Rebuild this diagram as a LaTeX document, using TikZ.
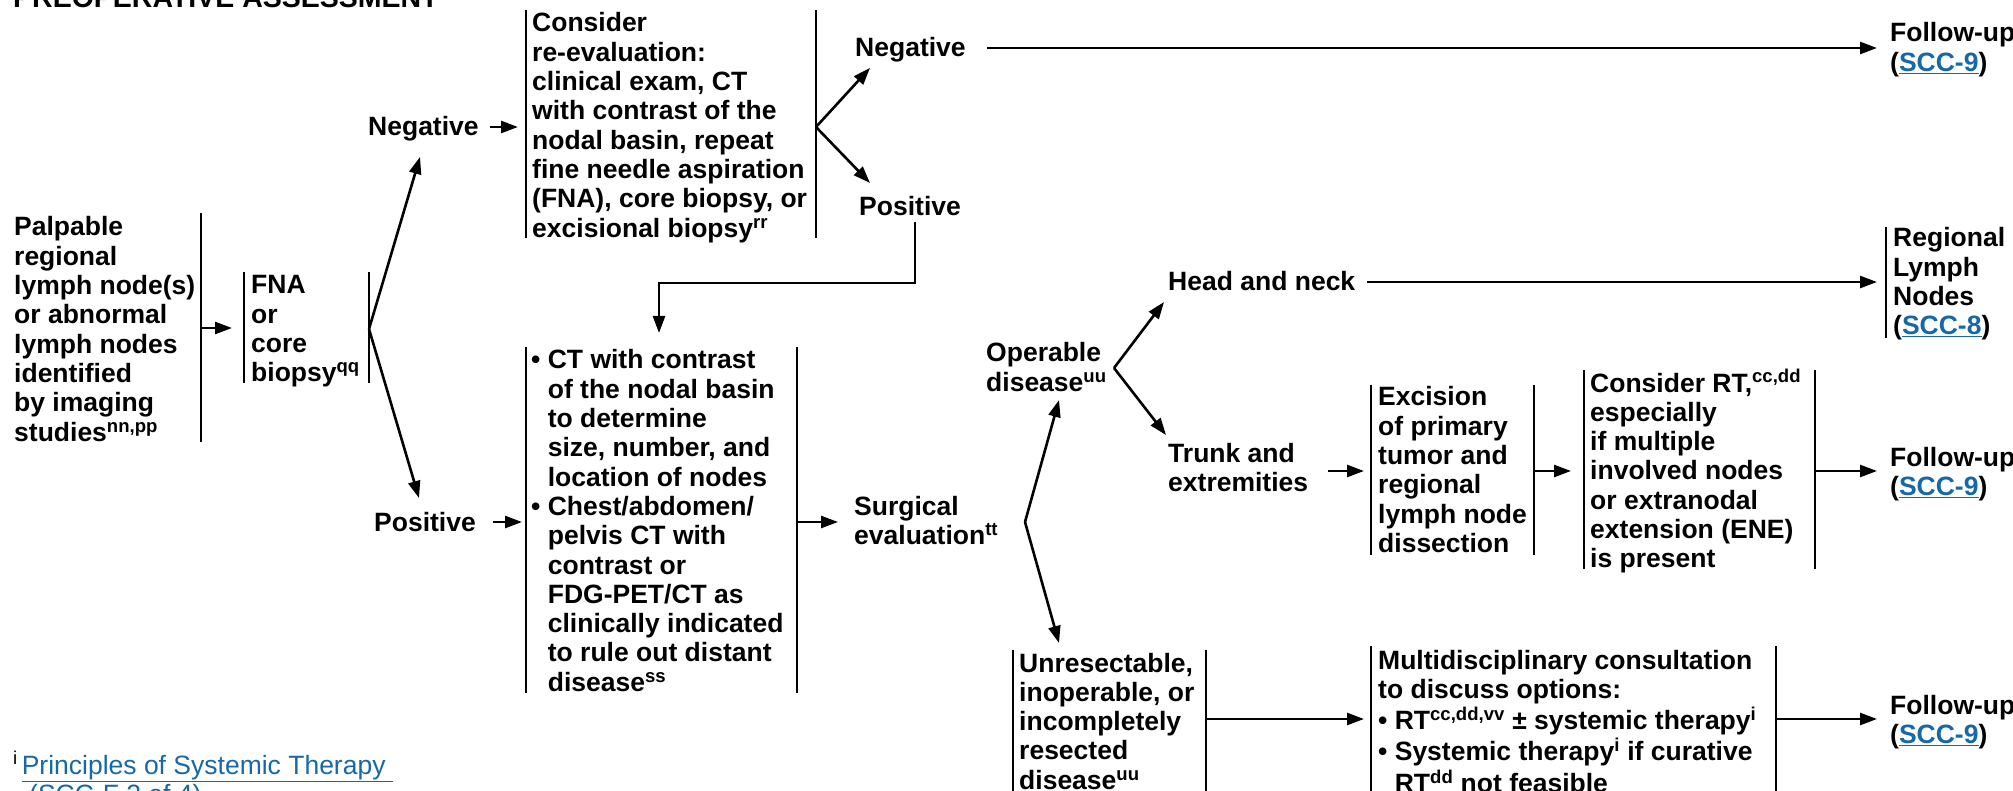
\documentclass[tikz,border=0pt]{standalone}
\usepackage{fontspec}
\setmainfont{Liberation Sans}
\usetikzlibrary{arrows.meta}
\definecolor{linkblue}{RGB}{22,104,168}
\newcommand\tl[1]{\begin{tabular}[t]{@{}l@{}}#1\end{tabular}}
\newcommand\spx[1]{\textsuperscript{#1}}
\newcommand\lk[1]{\textcolor{linkblue}{\underline{#1}}}
\newcommand\bi{\hphantom{\textbullet\ }}
\begin{document}
\begin{tikzpicture}[x=1pt,y=-1pt,
  txt/.style={anchor=base west,inner sep=0pt,font=\fontsize{26.5}{29.3}\selectfont\bfseries},
  bar/.style={line width=2.8pt},
  ln/.style={line width=2.6pt},
  arr/.style={line width=2.6pt,-{Triangle[length=17pt,width=12pt]}}]
\useasboundingbox (0,0) rectangle (2013,791);
\clip (0,0) rectangle (2013,791);

% ---------- text nodes ----------
\node[txt,font=\fontsize{28.5}{30}\selectfont\bfseries] (title) at (13,8) {PREOPERATIVE ASSESSMENT};
\node[txt] (pal) at (14,236) {\tl{Palpable\\regional\\lymph node(s)\\or abnormal\\lymph nodes\\identified\\by imaging\\studies\spx{nn,pp}}};
\node[txt] (fna) at (251,294) {\tl{FNA\\or\\core\\biopsy\spx{qq}}};
\node[txt] (neg1) at (368,136) {Negative};
\node[txt] (pos1) at (374,531) {Positive};
\node[txt] (cons) at (532,32) {\tl{Consider\\re-evaluation:\\clinical exam, CT\\with contrast of the\\nodal basin, repeat\\fine needle aspiration\\(FNA), core biopsy, or\\excisional biopsy\spx{rr}}};
\node[txt] (neg2) at (855,57) {Negative};
\node[txt] (pos2) at (859,216) {Positive};
\node[txt] (ct) at (531,369) {\tl{\textbullet\ CT with contrast\\\bi of the nodal basin\\\bi to determine\\\bi size, number, and\\\bi location of nodes\\\textbullet\ Chest/abdomen/\\\bi pelvis CT with\\\bi contrast or\\\bi FDG-PET/CT as\\\bi clinically indicated\\\bi to rule out distant\\\bi disease\spx{ss}}};
\node[txt] (surg) at (854,515) {\tl{Surgical\\evaluation\spx{tt}}};
\node[txt] (oper) at (986,362) {\tl{Operable\\disease\spx{uu}}};
\node[txt] (hn) at (1168,291) {Head and neck};
\node[txt] (trunk) at (1168,462) {\tl{Trunk and\\extremities}};
\node[txt] (exc) at (1378,406) {\tl{Excision\\of primary\\tumor and\\regional\\lymph node\\dissection}};
\node[txt] (rt) at (1590,392) {\tl{Consider RT,\spx{cc,dd}\\especially\\if multiple\\involved nodes\\or extranodal\\extension (ENE)\\is present}};
\node[txt] (unres) at (1019,672) {\tl{Unresectable,\\inoperable, or\\incompletely\\resected\\disease\spx{uu}}};
\node[txt] (multi) at (1378,669) {\tl{Multidisciplinary consultation\\to discuss options:\\\textbullet\ RT\spx{cc,dd,vv} ± systemic therapy\spx{i}\\\textbullet\ Systemic therapy\spx{i} if curative\\\bi RT\spx{dd} not feasible}};
\node[txt] (fu1) at (1890,42) {\tl{Follow-up\\(\lk{SCC-9})}};
\node[txt] (rln) at (1893,247) {\tl{Regional\\Lymph\\Nodes\\(\lk{SCC-8})}};
\node[txt] (fu2) at (1890,466) {\tl{Follow-up\\(\lk{SCC-9})}};
\node[txt] (fu3) at (1890,714) {\tl{Follow-up\\(\lk{SCC-9})}};
\node[anchor=base west,inner sep=0pt,font=\fontsize{26.5}{29}\selectfont] (fn) at (13,774)
  {\tl{\spx{i}\hspace{4pt}\lk{Principles of Systemic Therapy\ }\\\hspace*{16pt}\lk{(SCC-F 2 of 4)}}};

% ---------- bars ----------
\draw[bar] (201,213) -- (201,442);
\draw[bar] (244,272) -- (244,383);
\draw[bar] (369,272) -- (369,383);
\draw[bar] (526,10) -- (526,238);
\draw[bar] (816,10) -- (816,238);
\draw[bar] (526,347) -- (526,693);
\draw[bar] (797,347) -- (797,693);
\draw[bar] (1886,227) -- (1886,338);
\draw[bar] (1371,385) -- (1371,555);
\draw[bar] (1534,385) -- (1534,555);
\draw[bar] (1584,370) -- (1584,569);
\draw[bar] (1815,370) -- (1815,569);
\draw[bar] (1013,650) -- (1013,800);
\draw[bar] (1206,650) -- (1206,800);
\draw[bar] (1371,646) -- (1371,800);
\draw[bar] (1776,646) -- (1776,800);

% ---------- connector end points ----------
\coordinate (palR) at (201,328);
\coordinate (fnaIn) at (232,328);
\coordinate (fnaR) at (369,329);
\coordinate (neg1In) at (420,157);
\coordinate (pos1In) at (419,498);
\coordinate (neg1Out) at (490,127);
\coordinate (consIn) at (518,127);
\coordinate (pos1Out) at (493,522);
\coordinate (ctIn) at (522,522);
\coordinate (consR) at (816,127);
\coordinate (neg2In) at (870,68);
\coordinate (pos2In) at (870,183);
\coordinate (neg2Out) at (987,48);
\coordinate (fu1In) at (1877,48);
\coordinate (pos2Out) at (915,222);
\coordinate (ctTop) at (659,333);
\coordinate (ctR) at (797,522);
\coordinate (surgIn) at (838,522);
\coordinate (surgV) at (1025,522);
\coordinate (operIn) at (1059,400);
\coordinate (unresIn) at (1059,643);
\coordinate (operV) at (1114,368);
\coordinate (hnIn) at (1164,302);
\coordinate (trunkIn) at (1166,435);
\coordinate (hnOut) at (1367,282);
\coordinate (rlnIn) at (1877,282);
\coordinate (trunkOut) at (1328,471);
\coordinate (excIn) at (1364,471);
\coordinate (excR) at (1534,471);
\coordinate (rtIn) at (1571,471);
\coordinate (rtR) at (1815,471);
\coordinate (fu2In) at (1877,471);
\coordinate (unresR) at (1206,719);
\coordinate (multiIn) at (1364,719);
\coordinate (multiR) at (1776,719);
\coordinate (fu3In) at (1877,719);

% ---------- connectors ----------
\draw[arr] (palR) -- (fnaIn);
\draw[arr] (fnaR) -- (neg1In);
\draw[arr] (fnaR) -- (pos1In);
\draw[arr] (neg1Out) -- (consIn);
\draw[arr] (pos1Out) -- (ctIn);
\draw[arr] (consR) -- (neg2In);
\draw[arr] (consR) -- (pos2In);
\draw[arr] (neg2Out) -- (fu1In);
\draw[arr] (pos2Out) |- (659,283) -- (ctTop);
\draw[arr] (ctR) -- (surgIn);
\draw[arr] (surgV) -- (operIn);
\draw[arr] (surgV) -- (unresIn);
\draw[arr] (operV) -- (hnIn);
\draw[arr] (operV) -- (trunkIn);
\draw[arr] (hnOut) -- (rlnIn);
\draw[arr] (trunkOut) -- (excIn);
\draw[arr] (excR) -- (rtIn);
\draw[arr] (rtR) -- (fu2In);
\draw[arr] (unresR) -- (multiIn);
\draw[arr] (multiR) -- (fu3In);
\end{tikzpicture}
\end{document}
